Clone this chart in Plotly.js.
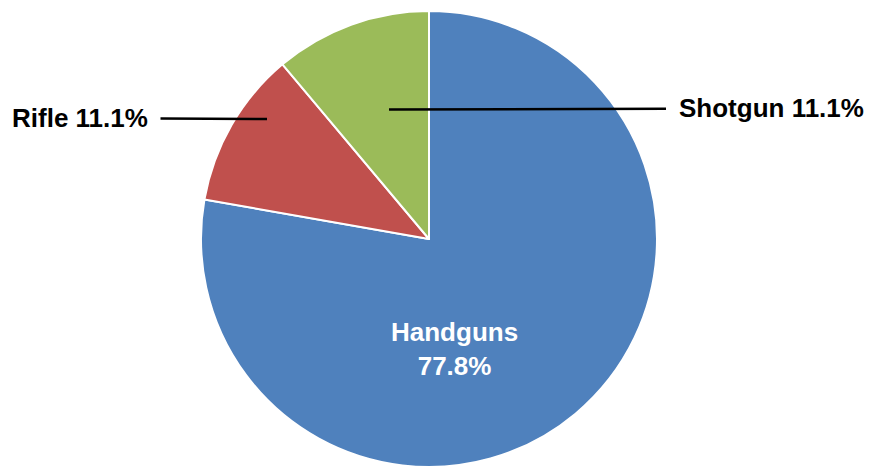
<!DOCTYPE html>
<html>
<head>
<meta charset="utf-8">
<script src="https://cdn.plot.ly/plotly-3.0.1.min.js"></script>
<style>html,body{margin:0;padding:0;background:#fff;}#chart{width:871px;height:470px;}</style>
</head>
<body>
<div id="chart"></div>
<script>
const categories = ['Handguns', 'Rifle', 'Shotgun'];
const values = [7, 1, 1];
const colors = ['#4F81BD', '#C0504D', '#9BBB59'];

const W = 871, H = 470;
const total = values.reduce((a, b) => a + b, 0);
const pct = values.map(v => (v / total * 100).toFixed(1) + '%');

const font = {family: 'Liberation Sans, Arial, sans-serif', size: 26, color: '#000', weight: 'bold'};
const px = x => x / W;
const py = y => 1 - y / H;

const annotations = [
  {
    text: categories[0] + '<br>' + pct[0],
    x: px(454), y: py(349), xref: 'paper', yref: 'paper',
    showarrow: false, xanchor: 'center', yanchor: 'middle',
    font: Object.assign({}, font, {color: '#fff'})
  },
  {
    text: categories[1] + ' ' + pct[1],
    x: px(267), y: py(119), xref: 'paper', yref: 'paper',
    showarrow: true, arrowhead: 0, arrowwidth: 2.5, arrowcolor: '#000',
    axref: 'pixel', ayref: 'pixel', ax: -187, ay: -1, borderpad: 12,
    font: font
  },
  {
    text: categories[2] + ' ' + pct[2],
    x: px(389), y: py(109.5), xref: 'paper', yref: 'paper',
    showarrow: true, arrowhead: 0, arrowwidth: 2.5, arrowcolor: '#000',
    axref: 'pixel', ayref: 'pixel', ax: 382, ay: -1, borderpad: 12,
    font: font
  }
];

const trace = {
  type: 'pie',
  labels: categories,
  values: values,
  sort: false,
  direction: 'clockwise',
  rotation: 0,
  textinfo: 'none',
  hoverinfo: 'none',
  marker: {colors: colors, line: {color: '#ffffff', width: 2}},
  domain: {x: [0, 858 / W], y: [3 / H, 459 / H]},
  showlegend: false
};

const layout = {
  width: W, height: H,
  margin: {l: 0, r: 0, t: 0, b: 0},
  paper_bgcolor: '#fff',
  showlegend: false,
  annotations: annotations
};

Plotly.newPlot('chart', [trace], layout, {displayModeBar: false, staticPlot: true});
</script>
</body>
</html>
